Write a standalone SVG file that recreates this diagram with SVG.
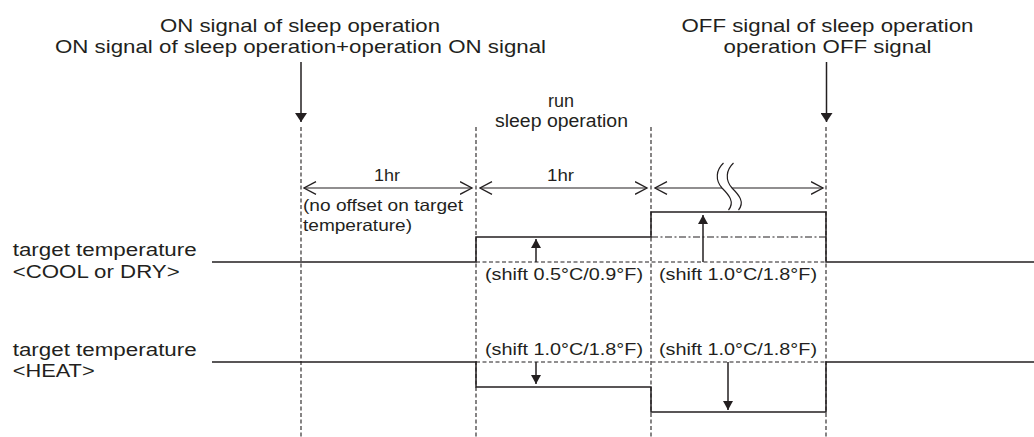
<svg xmlns="http://www.w3.org/2000/svg" width="1034" height="437" viewBox="0 0 1034 437">
<style>
  text { font-family: "Liberation Sans", Arial, sans-serif; fill: #231f20; }
  .big { font-size: 18.5px; }
  .mid { font-size: 17.5px; }
  .sm { font-size: 16.5px; }
  .solid { fill: none; stroke: #231f20; stroke-width: 1.5; }
  .thin { fill: none; stroke: #231f20; stroke-width: 1.2; }
  .vdash { fill: none; stroke: #231f20; stroke-width: 1.1; stroke-dasharray: 4 2.5; }
  .hdash { fill: none; stroke: #231f20; stroke-width: 1.1; stroke-dasharray: 4 2.5; }
  .dashdot { fill: none; stroke: #231f20; stroke-width: 1.1; stroke-dasharray: 7 2.5 2 2.5; }
</style>
<defs>
  <marker id="sigHead" markerUnits="userSpaceOnUse" markerWidth="10" markerHeight="12" refX="9" refY="6" orient="auto">
    <path d="M0,0 L9,6 L0,12 z" fill="#231f20"/>
  </marker>
  <marker id="shiftHead" markerUnits="userSpaceOnUse" markerWidth="10" markerHeight="10" refX="9" refY="5" orient="auto">
    <path d="M0,0 L9,5 L0,10 z" fill="#231f20"/>
  </marker>
  <marker id="openHead" markerUnits="userSpaceOnUse" markerWidth="14" markerHeight="14" refX="12.5" refY="7" orient="auto-start-reverse">
    <path d="M0.5,0.7 L12.5,7 L0.5,13.3" fill="none" stroke="#231f20" stroke-width="1.3"/>
  </marker>
</defs>

<g id="time-markers">
  <path class="vdash" d="M301,127 V437"/>
  <path class="vdash" d="M476,127 V437"/>
  <path class="vdash" d="M651,127 V437"/>
  <path class="vdash" d="M826,127 V437"/>
</g>

<g id="on-signal">
  <text class="big" x="160" y="32" textLength="280" lengthAdjust="spacingAndGlyphs">ON signal of sleep operation</text>
  <text class="big" x="55" y="53" textLength="491" lengthAdjust="spacingAndGlyphs">ON signal of sleep operation+operation ON signal</text>
</g>
<g id="off-signal">
  <text class="big" x="681.5" y="32" textLength="292" lengthAdjust="spacingAndGlyphs">OFF signal of sleep operation</text>
  <text class="big" x="723.5" y="53" textLength="208" lengthAdjust="spacingAndGlyphs">operation OFF signal</text>
</g>
<g id="run-label">
  <text class="mid" x="548" y="106.5" textLength="26" lengthAdjust="spacingAndGlyphs">run</text>
  <text class="mid" x="495" y="126.5" textLength="133" lengthAdjust="spacingAndGlyphs">sleep operation</text>
</g>

<g id="period-1">
  <text class="sm" x="374" y="180.5" textLength="26" lengthAdjust="spacingAndGlyphs">1hr</text>
  <text class="sm" x="303" y="210.5" textLength="160" lengthAdjust="spacingAndGlyphs">(no offset on target</text>
  <text class="sm" x="303" y="230.5" textLength="109" lengthAdjust="spacingAndGlyphs">temperature)</text>
</g>
<g id="period-2">
  <text class="sm" x="547" y="180.5" textLength="27" lengthAdjust="spacingAndGlyphs">1hr</text>
</g>

<g id="cool-label">
  <text class="mid" x="12.7" y="256" textLength="184" lengthAdjust="spacingAndGlyphs">target temperature</text>
  <text class="mid" x="12.7" y="278" textLength="167" lengthAdjust="spacingAndGlyphs">&lt;COOL or DRY&gt;</text>
</g>
<g id="heat-label">
  <text class="mid" x="12.7" y="356" textLength="184" lengthAdjust="spacingAndGlyphs">target temperature</text>
  <text class="mid" x="12.7" y="376.7" textLength="82" lengthAdjust="spacingAndGlyphs">&lt;HEAT&gt;</text>
</g>

<g id="cool-shift-labels">
  <text class="sm" x="485" y="279.5" textLength="158" lengthAdjust="spacingAndGlyphs">(shift 0.5°C/0.9°F)</text>
  <text class="sm" x="659" y="279.5" textLength="158" lengthAdjust="spacingAndGlyphs">(shift 1.0°C/1.8°F)</text>
</g>
<g id="heat-shift-labels">
  <text class="sm" x="485" y="354.5" textLength="158" lengthAdjust="spacingAndGlyphs">(shift 1.0°C/1.8°F)</text>
  <text class="sm" x="659" y="354.5" textLength="158" lengthAdjust="spacingAndGlyphs">(shift 1.0°C/1.8°F)</text>
</g>

<g id="cool-trace">
  <path class="hdash" d="M476,262 H826"/>
  <path class="dashdot" d="M651,237 H826"/>
  <path class="solid" d="M212,262 H476 V237 H651 V212 H826 V262 H1034"/>
</g>
<g id="heat-trace">
  <path class="hdash" d="M476,362 H826"/>
  <path class="solid" d="M212,362 H476 V387 H651 V412 H826 V362 H1034"/>
</g>

<g id="connectors">
  <path class="solid" d="M301,62 V122" marker-end="url(#sigHead)"/>
  <path class="solid" d="M826.5,62 V122" marker-end="url(#sigHead)"/>
  <path class="thin" d="M304,188 H472" marker-start="url(#openHead)" marker-end="url(#openHead)"/>
  <path class="thin" d="M480,188 H647" marker-start="url(#openHead)" marker-end="url(#openHead)"/>
  <path class="thin" d="M655,188 H823" marker-start="url(#openHead)" marker-end="url(#openHead)"/>
  <path class="solid" d="M536,262 V239" marker-end="url(#shiftHead)"/>
  <path class="solid" d="M703,262 V215" marker-end="url(#shiftHead)"/>
  <path class="solid" d="M536,362 V384" marker-end="url(#shiftHead)"/>
  <path class="solid" d="M728,362 V410" marker-end="url(#shiftHead)"/>
</g>

<g id="break-symbol">
  <path d="M723.5,163 C716,170 715,180 722,188 C729,195 735,202 728.5,210 L738.5,210 C745,202 739,195 732,188 C725,180 726,170 733.5,163 Z" fill="#fff" stroke="none"/>
  <path class="thin" d="M723.5,163 C716,170 715,180 722,188 C729,195 735,202 728.5,210"/>
  <path class="thin" d="M733.5,163 C726,170 725,180 732,188 C739,195 745,202 738.5,210"/>
</g>
</svg>
